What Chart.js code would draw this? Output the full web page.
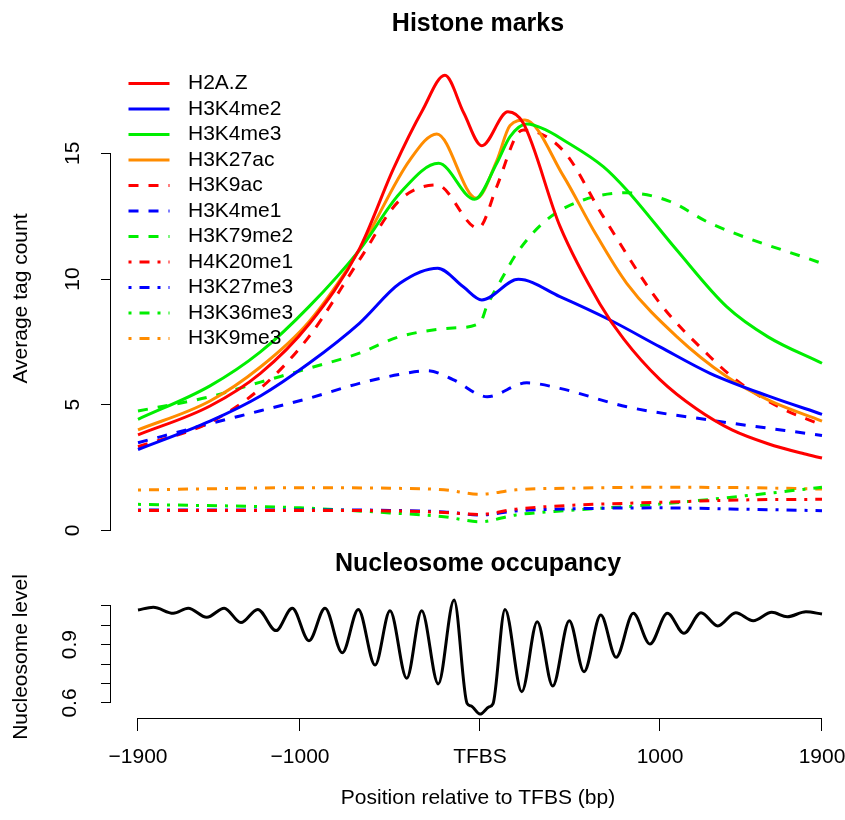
<!DOCTYPE html>
<html>
<head>
<meta charset="utf-8">
<title>Histone marks and nucleosome occupancy</title>
<script src="https://cdn.jsdelivr.net/npm/chart.js@4.4.1/dist/chart.umd.min.js"></script>
<style>
  body { margin: 0; background: #fff; }
  #wrap { position: relative; width: 845px; height: 820px; }
  #histone { position: absolute; left: 0; top: 0; }
  #nuc { position: absolute; left: 0; top: 548px; }
</style>
</head>
<body>
<div id="wrap">
  <canvas id="histone" width="845" height="548"></canvas>
  <canvas id="nuc" width="845" height="272"></canvas>
</div>
<script>
// values: [position relative to TFBS (bp), value]
const h2az = [[-1900, 3.8], [-1500, 4.95], [-1220, 6.25], [-950, 8.2], [-670, 11.2], [-480, 14.4], [-320, 16.7], [-195, 18.1], [-90, 16.6], [10, 15.3], [155, 16.65], [240, 16.2], [444, 12.1], [667, 9.0], [800, 7.6], [1000, 6.0], [1200, 4.85], [1400, 4.0], [1600, 3.45], [1800, 3.05], [1900, 2.88]]
const h3k4me2 = [[-1900, 3.22], [-1500, 4.35], [-1220, 5.35], [-950, 6.65], [-670, 8.24], [-445, 9.83], [-235, 10.43], [-93, 9.69], [10, 9.17], [213, 9.99], [444, 9.3], [722, 8.37], [1000, 7.3], [1278, 6.25], [1600, 5.35], [1900, 4.62]]
const h3k4me3 = [[-1900, 4.42], [-1500, 5.75], [-1220, 7.1], [-950, 8.9], [-670, 11.15], [-445, 13.41], [-230, 14.6], [-30, 13.17], [93, 14.6], [167, 15.66], [260, 16.16], [360, 15.95], [463, 15.53], [685, 14.47], [815, 13.54], [1093, 11.15], [1370, 8.9], [1600, 7.7], [1900, 6.65]]
const h3k27ac = [[-1900, 4.0], [-1500, 5.15], [-1220, 6.5], [-950, 8.3], [-670, 11.15], [-390, 14.73], [-240, 15.77], [-20, 13.21], [93, 14.7], [167, 16.1], [250, 16.32], [463, 14.1], [630, 11.95], [815, 9.83], [1093, 7.71], [1370, 6.12], [1600, 5.19], [1900, 4.35]]
const h3k9ac = [[-1900, 3.33], [-1500, 4.3], [-1220, 5.65], [-950, 7.71], [-670, 10.76], [-445, 13.14], [-240, 13.74], [-10, 12.02], [93, 13.67], [204, 15.73], [241, 15.92], [463, 15.1], [685, 12.48], [1000, 9.03], [1278, 6.91], [1420, 6.0], [1650, 4.95], [1900, 4.19]]
const h3k4me1 = [[-1900, 3.49], [-1500, 4.25], [-1220, 4.76], [-950, 5.26], [-670, 5.85], [-450, 6.2], [-290, 6.35], [-150, 6.0], [40, 5.32], [260, 5.87], [444, 5.65], [815, 4.92], [1278, 4.39], [1900, 3.78]]
const h3k79me2 = [[-1900, 4.75], [-1500, 5.32], [-1220, 5.9], [-950, 6.45], [-670, 7.05], [-445, 7.71], [-150, 8.05], [0, 8.25], [37, 8.9], [120, 10.0], [204, 11.02], [370, 12.35], [574, 13.14], [815, 13.43], [1050, 13.1], [1278, 12.22], [1900, 10.62]]
const h4k20me1 = [[-1900, 0.8], [-1000, 0.8], [-500, 0.78], [-200, 0.72], [0, 0.64], [200, 0.85], [500, 1.0], [1000, 1.12], [1500, 1.22], [1900, 1.24]]
const h3k27me3 = [[-1900, 0.82], [-1000, 0.82], [-500, 0.8], [-200, 0.74], [0, 0.62], [200, 0.78], [500, 0.86], [1000, 0.9], [1500, 0.84], [1900, 0.79]]
const h3k36me3 = [[-1900, 1.04], [-1000, 0.9], [-500, 0.7], [-200, 0.55], [0, 0.35], [200, 0.62], [500, 0.8], [1000, 1.05], [1500, 1.4], [1900, 1.72]]
const h3k9me3 = [[-1900, 1.61], [-1500, 1.66], [-1000, 1.7], [-500, 1.68], [-200, 1.62], [0, 1.44], [200, 1.62], [500, 1.68], [1000, 1.72], [1500, 1.7], [1900, 1.65]]

const nucleosome = [[-1900, 1.078], [-1815, 1.092], [-1704, 1.061], [-1621, 1.087], [-1518, 1.04], [-1421, 1.087], [-1328, 1.013], [-1235, 1.081], [-1133, 0.972], [-1043, 1.087], [-950, 0.92], [-861, 1.087], [-765, 0.858], [-676, 1.081], [-583, 0.795], [-500, 1.074], [-407, 0.727], [-324, 1.074], [-232, 0.698], [-144, 1.129], [-72, 0.598], [-50, 0.585], [0, 0.543], [50, 0.58], [72, 0.595], [139, 1.081], [232, 0.658], [318, 1.018], [404, 0.687], [496, 1.023], [578, 0.761], [671, 1.052], [756, 0.835], [852, 1.061], [944, 0.903], [1041, 1.061], [1133, 0.958], [1228, 1.064], [1321, 0.996], [1421, 1.064], [1518, 1.023], [1621, 1.066], [1707, 1.043], [1811, 1.069], [1900, 1.057]]

const markNames = ['H2A.Z', 'H3K4me2', 'H3K4me3', 'H3K27ac', 'H3K9ac', 'H3K4me1', 'H3K79me2', 'H4K20me1', 'H3K27me3', 'H3K36me3', 'H3K9me3']
const markSeries = [h2az, h3k4me2, h3k4me3, h3k27ac, h3k9ac, h3k4me1, h3k79me2, h4k20me1, h3k27me3, h3k36me3, h3k9me3]
const markColors = ['#ff0000', '#0000ff', '#00ee00', '#ff8c00', '#ff0000', '#0000ff', '#00ee00', '#ff0000', '#0000ff', '#00ee00', '#ff8c00']
const markStyle = ['solid', 'solid', 'solid', 'solid', 'dashed', 'dashed', 'dashed', 'dotdash', 'dotdash', 'dotdash', 'dotdash']

const histTicks = [0, 5, 10, 15]
const nucTicks = [0.6, 0.7, 0.8, 0.9, 1.0, 1.1]
const nucTickLabels = ['0.6', '', '', '0.9', '', '']
const posTicks = [-1900, -1000, 0, 1000, 1900]
const posTickLabels = ['\u22121900', '\u22121000', 'TFBS', '1000', '1900']

const dashes = { solid: [], dashed: [10, 10], dotdash: [3, 8, 10, 8] }

Chart.defaults.font.family = '"Liberation Sans", Arial, sans-serif'
Chart.defaults.color = '#000'

// R style axis lines, only between the first and last tick
const rAxes = {
    id: 'rAxes',
    afterDraw(chart, args, opts) {
        const ctx = chart.ctx
        const area = chart.chartArea
        ctx.save()
        ctx.strokeStyle = '#000'
        ctx.lineWidth = 1
        if (opts.y) {
            const ys = chart.scales.y
            ctx.beginPath()
            ctx.moveTo(area.left - 0.5, ys.getPixelForValue(opts.y[0]))
            ctx.lineTo(area.left - 0.5, ys.getPixelForValue(opts.y[1]))
            ctx.stroke()
        }
        if (opts.x) {
            const xs = chart.scales.x
            ctx.beginPath()
            ctx.moveTo(xs.getPixelForValue(opts.x[0]), area.bottom + 0.5)
            ctx.lineTo(xs.getPixelForValue(opts.x[1]), area.bottom + 0.5)
            ctx.stroke()
        }
        ctx.restore()
    }
}

// legend drawn inside the plot, no box, like R's bty = "n"
const rLegend = {
    id: 'rLegend',
    afterDatasetsDraw(chart, args, opts) {
        if (!opts.show) return
        const ctx = chart.ctx
        ctx.save()
        ctx.font = '21px "Liberation Sans", Arial, sans-serif'
        ctx.textBaseline = 'middle'
        chart.data.datasets.forEach((ds, i) => {
            const y = opts.top + i * opts.step
            ctx.strokeStyle = ds.borderColor
            ctx.lineWidth = ds.borderWidth
            ctx.setLineDash(ds.borderDash)
            ctx.beginPath()
            ctx.moveTo(opts.x0, y)
            ctx.lineTo(opts.x0 + opts.len, y)
            ctx.stroke()
            ctx.setLineDash([])
            ctx.fillStyle = '#000'
            ctx.fillText(ds.label, opts.textX, y)
        })
        ctx.restore()
    }
}

function toPoints(pairs) {
    return pairs.map(p => ({ x: p[0], y: p[1] }))
}

const markSets = []
for (let i = 0; i < markNames.length; i++) {
    markSets.push({
        label: markNames[i],
        data: toPoints(markSeries[i]),
        borderColor: markColors[i],
        borderDash: dashes[markStyle[i]],
        borderWidth: 3,
        pointRadius: 0,
        fill: false,
        cubicInterpolationMode: 'monotone'
    })
}

new Chart(document.getElementById('histone'), {
    type: 'line',
    data: { datasets: markSets },
    options: {
        responsive: false,
        animation: false,
        layout: { padding: { left: 0, right: 0, top: 0, bottom: 3 } },
        plugins: {
            legend: { display: false },
            tooltip: { enabled: false },
            title: {
                display: true,
                fullSize: false,
                text: 'Histone marks',
                color: '#000',
                font: { size: 25, weight: 'bold' },
                padding: { top: 9, bottom: 13 }
            },
            rAxes: { y: [0, 15] },
            rLegend: { show: true, top: 83.5, step: 25.5, x0: 128.5, len: 41, textX: 188 }
        },
        scales: {
            x: { type: 'linear', min: -2050, max: 2027.8, display: false },
            y: {
                min: -0.5765,
                max: 19.026,
                afterBuildTicks: s => { s.ticks = histTicks.map(v => ({ value: v })) },
                afterFit: s => { s.width = 111; s.paddingTop = 0; s.paddingBottom = 0 },
                grid: { drawOnChartArea: false, tickLength: 10, color: '#000' },
                border: { display: false },
                ticks: { autoSkip: false, minRotation: 90, maxRotation: 90, crossAlign: 'center', padding: 16, font: { size: 21 }, color: '#000' },
                title: { display: true, text: 'Average tag count', color: '#000', font: { size: 21 }, padding: { top: 9, bottom: 0 } }
            }
        }
    },
    plugins: [rAxes, rLegend]
})

new Chart(document.getElementById('nuc'), {
    type: 'line',
    data: {
        datasets: [{
            label: 'Nucleosome level',
            data: toPoints(nucleosome),
            borderColor: '#000',
            borderWidth: 3,
            pointRadius: 0,
            fill: false,
            cubicInterpolationMode: 'monotone'
        }]
    },
    options: {
        responsive: false,
        animation: false,
        layout: { padding: 0 },
        plugins: {
            legend: { display: false },
            tooltip: { enabled: false },
            title: {
                display: true,
                fullSize: false,
                text: 'Nucleosome occupancy',
                color: '#000',
                font: { size: 25, weight: 'bold' },
                padding: { top: 1, bottom: 17 }
            },
            rAxes: { y: [0.6, 1.1], x: [-1900, 1900] },
            rLegend: { show: false }
        },
        scales: {
            x: {
                type: 'linear',
                min: -2050,
                max: 2027.8,
                afterBuildTicks: s => { s.ticks = posTicks.map(v => ({ value: v })) },
                afterFit: s => { s.height = 102; s.paddingLeft = 0; s.paddingRight = 0 },
                grid: { drawOnChartArea: false, tickLength: 13, color: '#000' },
                border: { display: false },
                ticks: { autoSkip: false, maxRotation: 0, minRotation: 0, padding: 14, font: { size: 21 }, color: '#000',
                    callback: (v, i) => posTickLabels[i] },
                title: { display: true, text: 'Position relative to TFBS (bp)', color: '#000', font: { size: 21 }, padding: { top: 0, bottom: 9 } }
            },
            y: {
                min: 0.5229,
                max: 1.1498,
                afterBuildTicks: s => { s.ticks = nucTicks.map(v => ({ value: v })) },
                afterFit: s => { s.width = 111; s.paddingTop = 0; s.paddingBottom = 0 },
                grid: { drawOnChartArea: false, tickLength: 10, color: '#000' },
                border: { display: false },
                ticks: { autoSkip: false, minRotation: 90, maxRotation: 90, crossAlign: 'center', padding: 16, font: { size: 21 }, color: '#000',
                    callback: (v, i) => nucTickLabels[i] },
                title: { display: true, text: 'Nucleosome level', color: '#000', font: { size: 21 }, padding: { top: 9, bottom: 0 } }
            }
        }
    },
    plugins: [rAxes, rLegend]
})
</script>
</body>
</html>
